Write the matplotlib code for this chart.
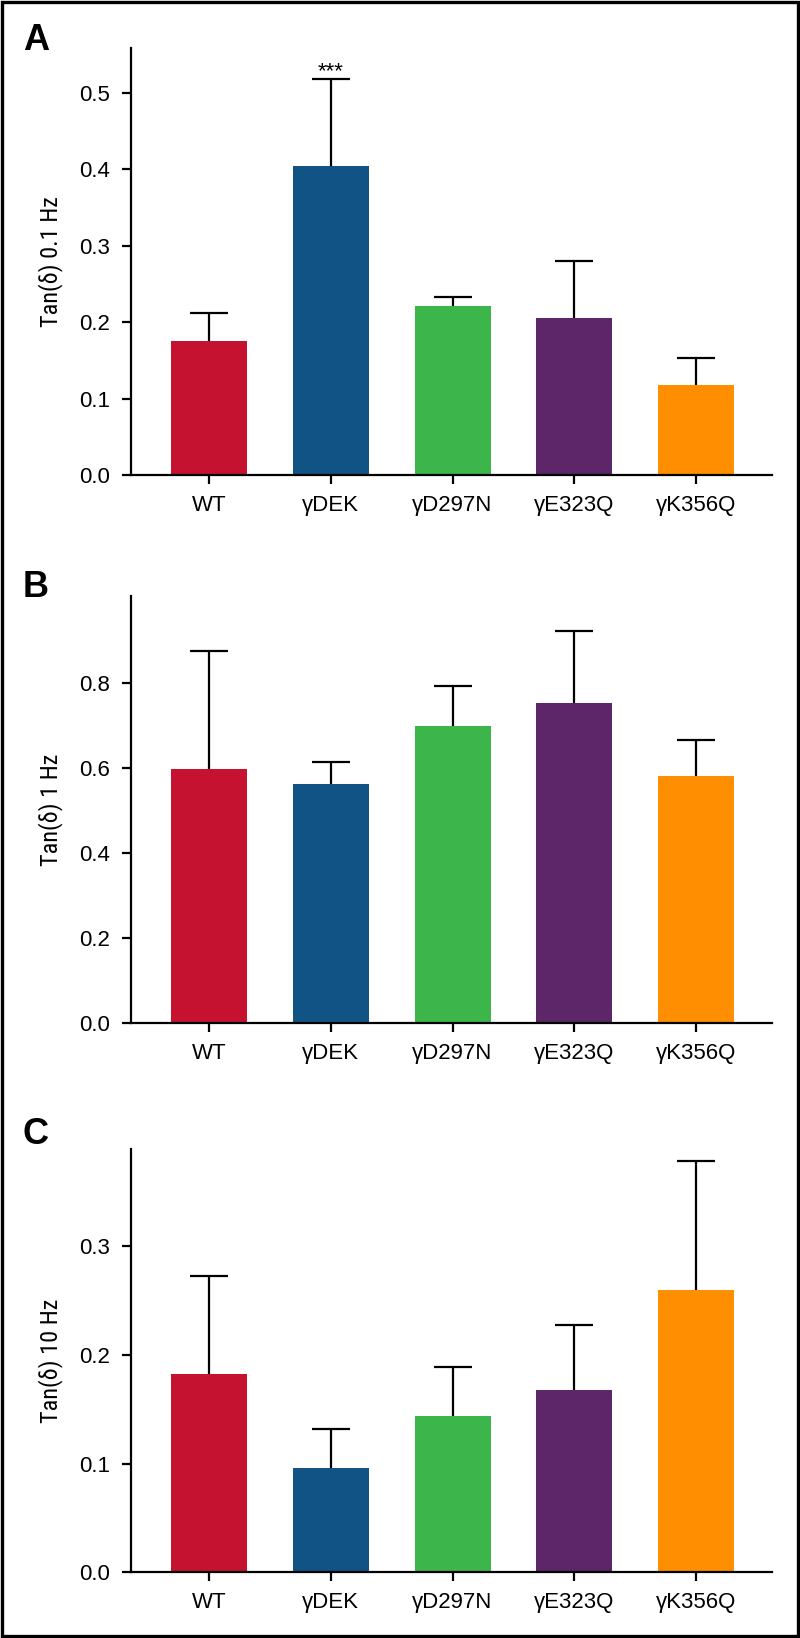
import numpy as np
import matplotlib.pyplot as plt
from matplotlib import font_manager
from matplotlib.patches import Rectangle

# noms de polices disponibles
noms = {f.name for f in font_manager.fontManager.ttflist}
police = "Liberation Sans" if "Liberation Sans" in noms else "DejaVu Sans"
police_etroite = None
for nom in ["Liberation Sans Narrow", "Roboto Condensed", "Noto Sans Condensed",
            "Open Sans Condensed", "DejaVu Sans Condensed"]:
    if nom in noms:
        police_etroite = nom
        break

plt.rcParams["font.family"] = [police, "DejaVu Sans"]

# Données
groupes = ["WT", "γDEK", "γD297N", "γE323Q", "γK356Q"]
couleurs = ["#C41230", "#125385", "#3CB54B", "#5C2668", "#FF8F00"]

tan_01hz = [0.175, 0.404, 0.221, 0.205, 0.118]
tan_01hz_haut = [0.2125, 0.518, 0.233, 0.280, 0.153]

tan_1hz = [0.596, 0.561, 0.699, 0.752, 0.581]
tan_1hz_haut = [0.875, 0.613, 0.793, 0.922, 0.666]

tan_10hz = [0.182, 0.096, 0.144, 0.168, 0.259]
tan_10hz_haut = [0.272, 0.132, 0.189, 0.227, 0.378]

panneaux = [
    ("A", "Tan(δ) 0.1 Hz", tan_01hz, tan_01hz_haut, 0.558, np.arange(0, 0.51, 0.1)),
    ("B", "Tan(δ) 1 Hz", tan_1hz, tan_1hz_haut, 1.004, np.arange(0, 0.81, 0.2)),
    ("C", "Tan(δ) 10 Hz", tan_10hz, tan_10hz_haut, 0.389, np.arange(0, 0.31, 0.1)),
]
# position (px) : haut et bas des axes, ligne de base de la lettre
positions = [(48.3, 475.3, 50), (595.7, 1023.3, 597), (1149, 1572.4, 1144)]

W, H = 800, 1638
fig = plt.figure(figsize=(W / 100, H / 100), dpi=100)

x = np.arange(len(groupes))
gauche, droite = 131, 771.7

for (lettre, ylab, moy, haut, ymax, ticks), (haut_px, bas_px, base_lettre) in zip(panneaux, positions):
    ax = fig.add_axes([gauche / W, 1 - bas_px / H, (droite - gauche) / W, (bas_px - haut_px) / H])
    ax.bar(x, moy, width=0.625, color=couleurs, zorder=2)
    err = np.array(haut) - np.array(moy)
    _, caps, _ = ax.errorbar(x, moy, yerr=[np.zeros(len(moy)), err], fmt="none",
                             ecolor="black", elinewidth=1.6, capsize=14, capthick=1.6, zorder=3)
    caps[0].set_visible(False)

    ax.set_xlim(-0.64, 4.62)
    ax.set_ylim(0, ymax)
    ax.set_yticks(ticks)
    ax.set_yticklabels([f"{t:.1f}" for t in ticks])
    ax.set_xticks(x)
    ax.set_xticklabels(groupes)
    for s in ["top", "right"]:
        ax.spines[s].set_visible(False)
    for s in ["left", "bottom"]:
        ax.spines[s].set_linewidth(1.6)
    ax.tick_params(axis="both", direction="out", length=6.5, width=1.6, labelsize=16, colors="black")
    ax.tick_params(axis="y", pad=8.5)
    ax.tick_params(axis="x", pad=7.5)

    if police_etroite:
        ax.set_ylabel(ylab, fontsize=17.5, family=[police_etroite, "DejaVu Sans"], va="center")
    else:
        ax.set_ylabel(ylab, fontsize=14.5, va="center")
    ax.yaxis.set_label_coords(-0.126, 0.5)

    fig.text(23 / W, 1 - base_lettre / H, lettre, fontsize=26, fontweight="bold",
             va="baseline", ha="left")

    if lettre == "A":
        ax.text(1, tan_01hz_haut[1] + 0.002, "***", ha="center", va="baseline", fontsize=16)

# cadre noir autour de la figure
fig.patches.append(Rectangle((1.5 / W, 2.5 / H), (W - 4) / W, (H - 4) / H, transform=fig.transFigure,
                             fill=False, edgecolor="black", linewidth=2.4))

fig.savefig("out.png", dpi=100)
